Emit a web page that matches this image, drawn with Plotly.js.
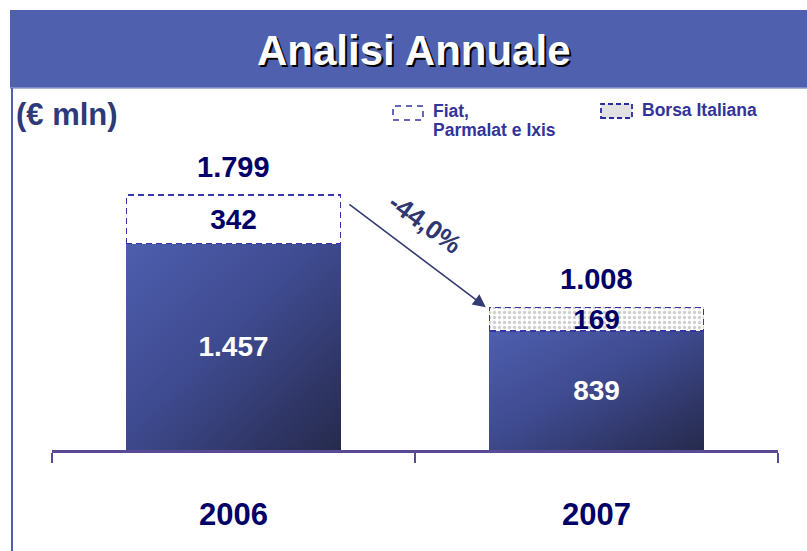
<!DOCTYPE html>
<html>
<head>
<meta charset="utf-8">
<script src="https://cdn.plot.ly/plotly-3.0.1.min.js"></script>
<style>
html,body{margin:0;padding:0;background:#fff;}
#chart{width:807px;height:551px;}
</style>
</head>
<body>
<div id="chart"></div>
<script>
// ---- data ----
const years = ['2006', '2007'];
const baseValues = [1457, 839];          // core revenues
const extraValues = [342, 169];          // Fiat, Parmalat e Ixis / Borsa Italiana
const seriesNames = ['Fiat,<br>Parmalat e Ixis', 'Borsa Italiana'];
const chartTitle = 'Analisi Annuale';
const unitLabel = '(€ mln)';

const totals = baseValues.map((v, i) => v + extraValues[i]);
const pct = ((totals[1] - totals[0]) / totals[0] * 100).toFixed(1).replace('.', ',') + '%';
const fmt = n => String(n).replace(/\B(?=(\d{3})+(?!\d))/g, '.');

const FONT = 'Liberation Sans, Arial, sans-serif';
const NAVY = '#000066';

// pixel helpers for paper coords (plot area 52..778 x, 100..450 y)
const L = 52, R = 29, T = 100, B = 101, W = 807 - L - R, H = 551 - T - B;
const px = x => (x - L) / W;
const py = y => (450 - y) / H;

const data = [
  {
    type: 'bar', x: years, y: baseValues, width: 0.59,
    marker: {color: '#3a4584', line: {width: 0}},
    texttemplate: '%{y:,}', textposition: 'inside', insidetextanchor: 'middle',
    constraintext: 'none',
    textfont: {family: FONT, size: 28, color: '#ffffff', weight: 'bold'},
    hoverinfo: 'skip', showlegend: false
  },
  {
    type: 'bar', x: years, y: extraValues, width: 0.59,
    marker: {
      color: '#ffffff',
      line: {color: '#3535a8', width: 1.3},
      pattern: {shape: ['', '.'], bgcolor: '#ffffff', fgcolor: '#cfcfcf', size: 5, solidity: 0.35, fillmode: 'replace'}
    },
    texttemplate: '%{y:,}', textposition: 'inside', insidetextanchor: 'middle',
    constraintext: 'none',
    textfont: {family: FONT, size: 28, color: NAVY, weight: 'bold'},
    hoverinfo: 'skip', showlegend: false
  }
];

const LEGFONT = {family: FONT, size: 17.5, color: '#333399', weight: 'bold'};
const annotations = [
  // title
  {xref: 'paper', yref: 'paper', x: px(414), y: py(50), text: chartTitle, showarrow: false,
   xanchor: 'center', yanchor: 'middle',
   font: {family: FONT, size: 42, color: '#ffffff', weight: 'bold', shadow: '2px 2px 0px #000000'}},
  // unit
  {xref: 'paper', yref: 'paper', x: px(14), y: py(115), text: unitLabel, showarrow: false,
   xanchor: 'left', yanchor: 'middle',
   font: {family: FONT, size: 31, color: '#2e3a78', weight: 'bold'}},
  // legend texts
  {xref: 'paper', yref: 'paper', x: px(640), y: py(110), text: seriesNames[1], showarrow: false,
   xanchor: 'left', yanchor: 'middle', align: 'left', font: LEGFONT},
  // arrow
  {xref: 'x', yref: 'y', axref: 'x', ayref: 'y',
   x: 1 - 0.305, y: totals[1], ax: 0.315, ay: totals[0] * 0.968,
   text: '', showarrow: true, arrowhead: 2, arrowsize: 1.6, arrowwidth: 1.6, arrowcolor: '#353c73'},
  // percentage label
  {xref: 'x', yref: 'y', x: 0.51, y: (totals[0] * 0.968 + totals[1]) / 2,
   xshift: 6, yshift: 32, text: pct, showarrow: false, textangle: 36,
   font: {family: FONT, size: 26, color: '#2f3670', weight: 'bold'}}
];
// first legend label: one annotation per line for tight line spacing
seriesNames[0].split('<br>').forEach((line, k) => {
  annotations.push({xref: 'paper', yref: 'paper', x: px(431), y: py(111 + 19 * k), text: line,
    showarrow: false, xanchor: 'left', yanchor: 'middle', align: 'left', font: LEGFONT});
});
// totals above bars (category axis annotations use serial index)
years.forEach((yr, i) => {
  annotations.push({xref: 'x', yref: 'y', x: i, y: totals[i], yanchor: 'bottom', yshift: 10,
    text: fmt(totals[i]), showarrow: false,
    font: {family: FONT, size: 29, color: NAVY, weight: 'bold'}});
});

const shapes = [
  // banner
  {type: 'rect', xref: 'paper', yref: 'paper', x0: px(10), x1: px(807), y0: py(88), y1: py(10),
   fillcolor: '#4f61ae', line: {width: 0}, layer: 'below'},
  {type: 'line', xref: 'paper', yref: 'paper', x0: px(10), x1: px(807), y0: py(88), y1: py(88),
   line: {color: '#8e97cf', width: 1.5}},
  // left border
  {type: 'line', xref: 'paper', yref: 'paper', x0: px(12), x1: px(12), y0: py(88), y1: py(551),
   line: {color: '#5060b0', width: 2}},
  // legend boxes
  {type: 'rect', xref: 'paper', yref: 'paper', x0: px(393), x1: px(423), y0: py(120), y1: py(106),
   fillcolor: 'rgba(0,0,0,0)', line: {color: '#3535a8', width: 1.5, dash: '6px,5px'}},
  {type: 'rect', xref: 'paper', yref: 'paper', x0: px(601), x1: px(632), y0: py(118), y1: py(104),
   fillcolor: '#e2e2e2', line: {color: '#2b2b9a', width: 1.8, dash: '5px,3px'}}
];

const layout = {
  width: 807, height: 551,
  margin: {l: L, r: R, t: T, b: B, pad: 0},
  paper_bgcolor: '#ffffff', plot_bgcolor: '#ffffff',
  barmode: 'stack',
  separators: ',.',
  showlegend: false,
  xaxis: {
    type: 'category', range: [-0.5, 1.5], tickson: 'boundaries',
    ticks: 'outside', ticklen: 10, tickwidth: 2.5, tickcolor: '#5a4a96',
    showline: true, linecolor: '#5a4a96', linewidth: 3,
    showgrid: false, zeroline: false, fixedrange: true,
    ticklabelstandoff: 35,
    tickfont: {family: FONT, size: 31, color: NAVY, weight: 'bold'}
  },
  yaxis: {range: [0, 2470], visible: false, showgrid: false, zeroline: false, fixedrange: true},
  annotations: annotations,
  shapes: shapes
};

Plotly.newPlot('chart', data, layout, {staticPlot: true, displayModeBar: false}).then(gd => {
  const ns = 'http://www.w3.org/2000/svg';
  const svg = gd.querySelector('.main-svg');
  let defs = svg.querySelector('defs');
  if (!defs) { defs = document.createElementNS(ns, 'defs'); svg.insertBefore(defs, svg.firstChild); }
  const lg = document.createElementNS(ns, 'linearGradient');
  lg.setAttribute('id', 'barGrad');
  lg.setAttribute('x1', '0'); lg.setAttribute('y1', '0');
  lg.setAttribute('x2', '1'); lg.setAttribute('y2', '1');
  [['0%', '#4e5eae'], ['45%', '#3f4b90'], ['100%', '#262a4c']].forEach(([o, c]) => {
    const s = document.createElementNS(ns, 'stop');
    s.setAttribute('offset', o); s.setAttribute('stop-color', c);
    lg.appendChild(s);
  });
  defs.appendChild(lg);
  const traces = gd.querySelectorAll('.barlayer .trace');
  if (traces[0]) traces[0].querySelectorAll('.point path').forEach(p => { p.style.fill = 'url(#barGrad)'; });
  if (traces[1]) traces[1].querySelectorAll('.point path').forEach(p => { p.style.strokeDasharray = '6,4'; });
});
</script>
</body>
</html>
